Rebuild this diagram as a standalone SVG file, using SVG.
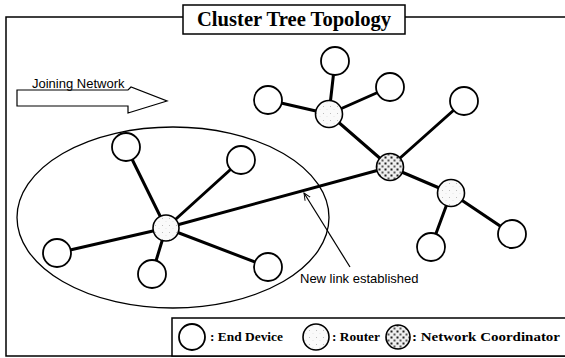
<svg xmlns="http://www.w3.org/2000/svg" width="565" height="358" viewBox="0 0 565 358">
<style>
.frame{fill:none;stroke:#000;stroke-width:1.5}
.edge{stroke:#000;stroke-width:3;stroke-linecap:round}
.end{fill:#fff;stroke:#000;stroke-width:1.8}
.router{fill:url(#routerFill);stroke:#000;stroke-width:1.6}
.coord{fill:url(#coordFill);stroke:#000;stroke-width:1.6}
.title{font-family:"Liberation Serif",serif;font-weight:bold;font-size:20px;fill:#000}
.legend{font-family:"Liberation Serif",serif;font-weight:bold;font-size:13.5px;fill:#000}
.label{font-family:"Liberation Sans",Arial,sans-serif;font-size:13px;fill:#000}
</style>
<defs>
<pattern id="routerFill" patternUnits="userSpaceOnUse" width="7" height="7">
<rect width="7" height="7" fill="#fafafa"/>
<circle cx="1.5" cy="1.5" r="0.5" fill="#aaa"/>
<circle cx="5" cy="4.5" r="0.4" fill="#ccc"/>
</pattern>
<pattern id="coordFill" patternUnits="userSpaceOnUse" width="6" height="6">
<rect width="6" height="6" fill="#efefef"/>
<rect x="0.5" y="0.5" width="2" height="2" fill="#222"/>
<rect x="3.5" y="3.5" width="2" height="2" fill="#555"/>
</pattern>
<marker id="openArrow" viewBox="0 0 10 10" refX="9" refY="5" markerWidth="8" markerHeight="8" orient="auto-start-reverse" markerUnits="userSpaceOnUse">
<path d="M0,1 L9,5 L0,9" fill="none" stroke="#000" stroke-width="1.2"/>
</marker>
</defs>

<g id="frame">
<path class="frame" d="M183,17 H6 V356 H565"/>
<path class="frame" d="M405,17 H565"/>
</g>

<g id="title">
<rect class="frame" x="183" y="5" width="222" height="29" fill="#fff"/>
<text class="title" x="294" y="26" text-anchor="middle" textLength="194" lengthAdjust="spacingAndGlyphs">Cluster Tree Topology</text>
</g>

<g id="joining-arrow">
<path d="M17,90 H128 L131,87 L167,101 L128,113 V106 H17 Z" fill="#fff" stroke="#000" stroke-width="1.2" stroke-linejoin="miter"/>
<text class="label" x="32" y="88">Joining Network</text>
</g>

<g id="cluster-ellipse">
<ellipse cx="173" cy="217.5" rx="156" ry="90.5" fill="none" stroke="#000" stroke-width="1.3"/>
</g>

<g id="connectors">
<line class="edge" x1="166" y1="228" x2="126" y2="147"/>
<line class="edge" x1="166" y1="228" x2="241" y2="160"/>
<line class="edge" x1="166" y1="228" x2="57" y2="253"/>
<line class="edge" x1="166" y1="228" x2="152" y2="274"/>
<line class="edge" x1="166" y1="228" x2="268" y2="267"/>
<line class="edge" x1="166" y1="228" x2="390" y2="167"/>
<line class="edge" x1="329" y1="114" x2="268" y2="100"/>
<line class="edge" x1="329" y1="114" x2="335" y2="61"/>
<line class="edge" x1="329" y1="114" x2="390" y2="87"/>
<line class="edge" x1="329" y1="114" x2="390" y2="167"/>
<line class="edge" x1="390" y1="167" x2="464" y2="101"/>
<line class="edge" x1="390" y1="167" x2="451" y2="193"/>
<line class="edge" x1="451" y1="193" x2="431" y2="247"/>
<line class="edge" x1="451" y1="193" x2="512" y2="234"/>
<line x1="350" y1="267" x2="304" y2="193" stroke="#000" stroke-width="1.2" marker-end="url(#openArrow)"/>
</g>

<g id="ed-l1"><circle class="end" cx="126" cy="147" r="14"/></g>
<g id="ed-l2"><circle class="end" cx="241" cy="160" r="14"/></g>
<g id="ed-l3"><circle class="end" cx="57" cy="253" r="14"/></g>
<g id="ed-l4"><circle class="end" cx="152" cy="274" r="14"/></g>
<g id="ed-l5"><circle class="end" cx="268" cy="267" r="14"/></g>
<g id="router-l"><circle class="router" cx="166" cy="228" r="13"/></g>

<g id="ed-r1"><circle class="end" cx="268" cy="100" r="14"/></g>
<g id="ed-r2"><circle class="end" cx="335" cy="61" r="14"/></g>
<g id="ed-r3"><circle class="end" cx="390" cy="87" r="14"/></g>
<g id="router-r1"><circle class="router" cx="329" cy="114" r="13.5"/></g>
<g id="coordinator"><circle class="coord" cx="390" cy="167" r="13.5"/></g>
<g id="ed-r4"><circle class="end" cx="464" cy="101" r="14"/></g>
<g id="router-r2"><circle class="router" cx="451" cy="193" r="13.5"/></g>
<g id="ed-r5"><circle class="end" cx="431" cy="247" r="14"/></g>
<g id="ed-r6"><circle class="end" cx="512" cy="234" r="14"/></g>

<g id="new-link-label">
<text class="label" x="300" y="283">New link established</text>
</g>

<g id="legend">
<rect x="172" y="318" width="400" height="38" fill="#fff" stroke="#000" stroke-width="1.5"/>
<circle class="end" cx="192" cy="337" r="13"/>
<text class="legend" x="210" y="341" textLength="73" lengthAdjust="spacingAndGlyphs">: End Device</text>
<circle class="router" cx="316" cy="337" r="13"/>
<text class="legend" x="332" y="341" textLength="48" lengthAdjust="spacingAndGlyphs">: Router</text>
<circle class="coord" cx="398" cy="337" r="12"/>
<text class="legend" x="412" y="341" textLength="148" lengthAdjust="spacingAndGlyphs">: Network Coordinator</text>
</g>
</svg>
